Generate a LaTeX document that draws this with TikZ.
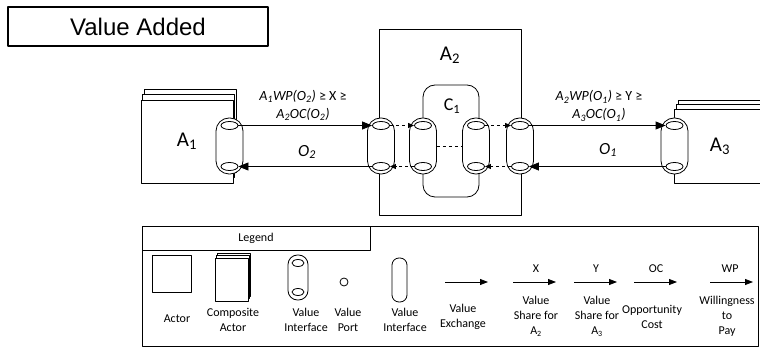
\documentclass[tikz,border=0pt]{standalone}
\usepackage{fontspec}
\setmainfont{Carlito}
\newfontfamily\arialfont{Liberation Sans}
\usetikzlibrary{arrows.meta,shapes.geometric,shadows}
\begin{document}
\begin{tikzpicture}[x=1pt, y=-1pt, >={Triangle[length=10pt,width=8pt]}, line join=round, line width=.8pt, font=\fontsize{12}{15}\selectfont]
				\tikzset{
					vi/.style={draw, fill=white, inner sep=0, minimum width=27pt, minimum height=56pt, rounded corners=13pt},
					vport/.style={draw, fill=white, ellipse, inner sep=0, minimum width=17pt, minimum height=8pt},
					actor/.style={draw, fill=white, inner sep=0, font=\fontsize{21}{24}\selectfont},
					intra/.style={dashed, -{Triangle[length=6pt,width=5pt]}},
					lgarrow/.style={-{Triangle[length=8pt,width=6pt]}},
					lbl/.style={align=center, font=\fontsize{12}{15}\selectfont},
					xlbl/.style={align=center, font=\fontsize{14}{18}\selectfont}
				}
				\useasboundingbox (0,0) rectangle (760,347);
				\clip (0,0) rectangle (760,347);
				\node [draw, line width=1.4pt, minimum width=260pt, minimum height=39pt, font=\arialfont\fontsize{24}{28}\selectfont] (title) at (138,26.5) {Value Added};
				\node [draw, minimum width=142pt, minimum height=186pt] (A2) at (450,122) {};
				\node [font=\fontsize{21}{24}\selectfont] (A2txt) at (450,55) {A\textsubscript{2}};
				\node [draw, fill=white, rounded corners=12pt, minimum width=56pt, minimum height=112pt] (C1) at (451,141) {};
				\node [font=\fontsize{18}{20}\selectfont] (C1txt) at (452,106) {C\textsubscript{1}};
				\node [actor, minimum width=92pt, minimum height=83pt, copy shadow={shadow xshift=3pt, shadow yshift=11pt}, copy shadow={shadow xshift=1.5pt, shadow yshift=5.5pt}] (A1) at (187,141.5) {A\textsubscript{1}};
				\node [actor, minimum width=92pt, minimum height=74pt, copy shadow={shadow xshift=4pt, shadow yshift=9pt}, copy shadow={shadow xshift=2pt, shadow yshift=5pt}] (A3) at (720,146) {A\textsubscript{3}};
				\foreach \n/\x in {a1/229.5, a2l/381, c1l/423, c1r/476, a2r/520, a3/674.5} {
					\node [vi] (\n-i) at (\x,146) {};
					\node [vport] (\n-t) at (\x,125.5) {};
					\node [vport] (\n-b) at (\x,166.5) {};
				}
				\draw [->] (a1-t)--(a2l-t);
				\draw [->] (a2l-b)--(a1-b);
				\draw [->] (a2r-t)--(a3-t);
				\draw [->] (a3-b)--(a2r-b);
				\draw [intra] (a2l-t)--(c1l-t);
				\draw [intra] (c1l-b)--(a2l-b);
				\draw [intra] (c1r-t)--(a2r-t);
				\draw [intra] (a2r-b)--(c1r-b);
				\draw [dashed] (c1l-i)--(c1r-i);
				\node [xlbl] (wpx) at (303,105) {\textit{A\textsubscript{1}WP(O\textsubscript{2})} ≥ X ≥\\\textit{A\textsubscript{2}OC(O\textsubscript{2})}};
				\node [xlbl] (wpy) at (599,106) {\textit{A\textsubscript{2}WP(O\textsubscript{1})} ≥ Y ≥\\\textit{A\textsubscript{3}OC(O\textsubscript{1})}};
				\node [font=\fontsize{17}{20}\selectfont\itshape] (o2) at (307,152) {O\textsubscript{2}};
				\node [font=\fontsize{17}{20}\selectfont\itshape] (o1) at (608,150) {O\textsubscript{1}};
				\node [draw, minimum width=616pt, minimum height=120pt] (legend) at (450,286) {};
				\node [draw, minimum width=228pt, minimum height=24pt] (legendtxt) at (256,238) {Legend};
				\node [draw, minimum width=39pt, minimum height=37pt] (lactor) at (171.5,273.5) {};
				\node [draw, fill=white, minimum width=33pt, minimum height=43pt, copy shadow={shadow xshift=2.4pt, shadow yshift=5pt}, copy shadow={shadow xshift=1.2pt, shadow yshift=2.5pt}] (lcomp) at (231.5,279.5) {};
				\node [vi, minimum width=20pt, minimum height=45pt, rounded corners=9.5pt] (lvi) at (298,277.5) {};
				\node [vport, minimum width=12pt, minimum height=7pt] (lvi-t) at (298,263) {};
				\node [vport, minimum width=12pt, minimum height=7pt] (lvi-b) at (298,292) {};
				\node [draw, circle, minimum size=8pt, inner sep=0] (lport) at (344,282) {};
				\node [vi, minimum width=15pt, minimum height=44pt, rounded corners=7pt] (lvi2) at (399.5,280) {};
				\foreach \n/\x in {vx/445, sx/513, sy/574, oc/634, wp/710} {
					\coordinate (\n-s) at (\x,282);
					\coordinate (\n-e) at (\x+43,282);
					\draw [lgarrow] (\n-s)--(\n-e);
				}
				\node [lbl] (sx-t) at (536,269) {X};
				\node [lbl] (sy-t) at (596,269) {Y};
				\node [lbl] (oc-t) at (656,269) {OC};
				\node [lbl] (wp-t) at (730,269) {WP};
				\node [lbl] (lactor-l) at (177,319) {Actor};
				\node [lbl] (lcomp-l) at (233,319.5) {Composite\\Actor};
				\node [lbl] (lvi-l) at (306,319.5) {Value\\Interface};
				\node [lbl] (lport-l) at (348,320) {Value\\Port};
				\node [lbl] (lvi2-l) at (405,319.5) {Value\\Interface};
				\node [lbl] (vx-l) at (463,317) {Value\\Exchange};
				\node [lbl] (sx-l) at (536,316.5) {Value\\Share for\\A\textsubscript{2}};
				\node [lbl] (sy-l) at (597,316.5) {Value\\Share for\\A\textsubscript{3}};
				\node [lbl] (oc-l) at (652,317) {Opportunity\\Cost};
				\node [lbl] (wp-l) at (727,316.5) {Willingness\\to\\Pay};
			\end{tikzpicture}
\end{document}
